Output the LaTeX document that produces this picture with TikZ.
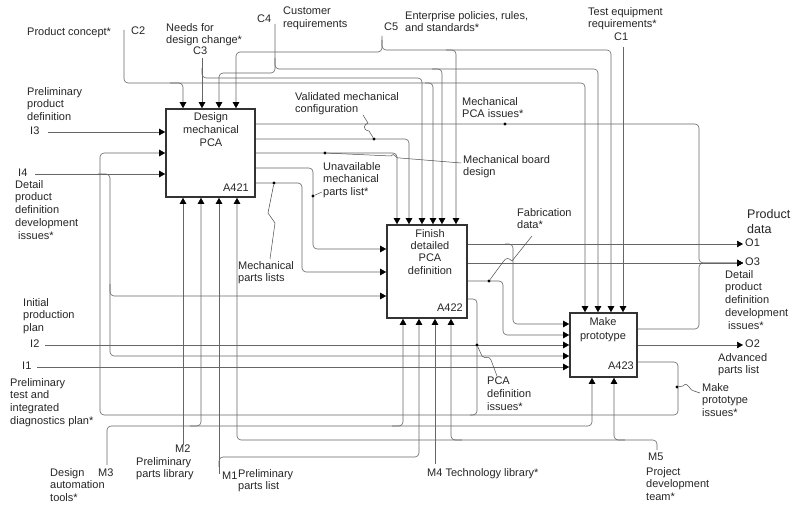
\documentclass[tikz,border=0pt]{standalone}
\usepackage{fontspec}
\setmainfont{Liberation Sans}
\usetikzlibrary{arrows.meta}
\begin{document}
\begin{tikzpicture}[x=1pt,y=-1pt,
  line/.style={draw=black!60, line width=0.6pt, rounded corners=4pt},
  arr/.style={line, -{Triangle[length=6pt,width=6.5pt,color=black]}},
  box/.style={draw=black!80, line width=1.6pt, fill=white, inner sep=0pt},
  btxt/.style={font=\fontsize{11}{13.2}\selectfont, align=center, anchor=north, inner sep=0pt, text=black!85},
  bid/.style={font=\fontsize{11}{13}\selectfont, anchor=base east, inner sep=0pt, text=black!85},
  lbl/.style={font=\fontsize{11}{12.8}\selectfont, align=left, anchor=north west, inner sep=0pt, text=black!85},
  jdot/.style={circle, fill=black, inner sep=0pt, minimum size=3.2pt},
  lead/.style={draw=black!70, line width=0.5pt},
]
\fill[white] (0,0) rectangle (809,510);
\useasboundingbox (0,0) rectangle (809,510);

% ---------- boxes ----------
\node[box, minimum width=89pt, minimum height=88pt] (a421) at (210.5,153) {};
\node[box, minimum width=80pt, minimum height=93pt] (a422) at (427,271.5) {};
\node[box, minimum width=67pt, minimum height=64pt] (a423) at (603.5,345) {};

% ---------- free ends ----------
\coordinate (c2s) at (124,30);
\coordinate (c3s) at (202,58);
\coordinate (c4s) at (275,24);
\coordinate (c5s) at (382,36);
\coordinate (c1s) at (623,47);
\coordinate (i3s) at (48,132);
\coordinate (i4s) at (35,174);
\coordinate (i2s) at (45,345);
\coordinate (i1s) at (37,367);
\coordinate (m2s) at (183,445);
\coordinate (m3s) at (107,465);
\coordinate (m1s) at (219,474);
\coordinate (m4s) at (435,464);
\coordinate (m5s) at (657,450);
\coordinate (o1) at (743,244);
\coordinate (o3) at (743,263);
\coordinate (o2) at (743,345);
\coordinate (fbj) at (470,415);

% ---------- controls ----------
\draw[arr] (c2s) -- (124,83) -- (433,83) -- (433,0 |- a422.north);
\draw[arr] (170,83) -- (183,83) -- (183,0 |- a421.north);
\draw[arr] (425,83) -- (585,83) -- (585,0 |- a423.north);

\draw[arr] (c3s) -- (202,0 |- a421.north);
\draw[arr] (202,68) -- (202,78) -- (422,78) -- (422,0 |- a422.north);

\draw[arr] (c4s) -- (275,73) -- (219,73) -- (219,0 |- a421.north);
\draw[arr] (275,58) -- (275,69) -- (598,69) -- (598,0 |- a423.north);
\draw[arr] (432,69) -- (442,69) -- (442,0 |- a422.north);

\draw[arr] (c5s) -- (382,52) -- (236,52) -- (236,0 |- a421.north);
\draw[arr] (382,40) -- (382,50) -- (611,50) -- (611,0 |- a423.north);
\draw[arr] (446,50) -- (456,50) -- (456,0 |- a422.north);

\draw[arr] (c1s) -- (623,0 |- a423.north);

% ---------- inputs ----------
\draw[arr] (i3s) -- (a421.west |- 0,132);
\draw[arr] (i4s) -- (a421.west |- 0,174);
\draw[arr] (98,174) -- (110,174) -- (110,356) -- (a423.west |- 0,356);
\draw[arr] (110,284) -- (110,296) -- (a422.west |- 0,296);
\draw[arr] (i2s) -- (a423.west |- 0,345);
\draw[arr] (i1s) -- (a423.west |- 0,367);

% ---------- outputs of A421 ----------
\draw[arr] (a421.east |- 0,124) -- (699,124) -- (699,263) -- (o3);
\draw[arr] (a421.east |- 0,139) -- (409,139) -- (409,0 |- a422.north);
\draw[arr] (a421.east |- 0,153) -- (397,153) -- (397,0 |- a422.north);
\draw[arr] (a421.east |- 0,168) -- (313,168) -- (313,249) -- (a422.west |- 0,249);
\draw[arr] (a421.east |- 0,183) -- (302,183) -- (302,272) -- (a422.west |- 0,272);

% ---------- outputs of A422 ----------
\draw[arr] (a422.east |- 0,244) -- (o1);
\draw[arr] (505,244) -- (513,244) -- (513,324) -- (a423.west |- 0,324);
\draw[arr] (a422.east |- 0,263) -- (o3);
\draw[arr] (a422.east |- 0,281) -- (503,281) -- (503,335) -- (a423.west |- 0,335);
\draw[arr] (a422.east |- 0,299) -- (477,299) -- (477,415) -- (100,415) -- (100,153) -- (a421.west |- 0,153);

% ---------- outputs of A423 ----------
\draw[arr] (a423.east |- 0,329) -- (699,329) -- (699,263) -- (o3);
\draw[arr] (a423.east |- 0,345) -- (o2);
\draw[line] (a423.east |- 0,362) -- (678,362) -- (678,415) -- (fbj);

% ---------- mechanisms ----------
\draw[arr] (m2s) -- (183,0 |- a421.south);
\draw[arr] (m3s) -- (107,426) -- (592,426) -- (592,0 |- a423.south);
\draw[arr] (190,426) -- (201,426) -- (201,0 |- a421.south);
\draw[arr] (392,426) -- (403,426) -- (403,0 |- a422.south);
\draw[arr] (m1s) -- (219,0 |- a421.south);
\draw[arr] (219,467) -- (219,457) -- (419,457) -- (419,0 |- a422.south);
\draw[arr] (m4s) -- (435,0 |- a422.south);
\draw[arr] (m5s) -- (657,440) -- (237,440) -- (237,0 |- a421.south);
\draw[arr] (462,440) -- (451,440) -- (451,0 |- a422.south);
\draw[arr] (625,440) -- (614,440) -- (614,0 |- a423.south);

% ---------- junction dots and leaders ----------
\node[jdot] (d1) at (505,124) {};
\node[jdot] (d2) at (374,139) {};
\node[jdot] (d3) at (325,153) {};
\node[jdot] (d4) at (313,196) {};
\node[jdot] (d5) at (274,183) {};
\node[jdot] (d6) at (489,281) {};
\node[jdot] (d7) at (477,345) {};
\node[jdot] (d8) at (677,387) {};

\draw[lead] (d2) -- (369,131) .. controls (362,130) and (364,124) .. (368,123) -- (363,115);
\draw[lead] (d3) -- (391,156) .. controls (394,151) and (396,160) .. (400,158) -- (461,163);
\draw[lead] (d4) -- (322,192);
\draw[lead] (d5) -- (268,213) -- (275,223) -- (270,259);
\draw[lead] (d6) -- (503,262) .. controls (506,257) and (509,258) .. (512,261) -- (532,236);
\draw[lead] (d7) -- (482,356) .. controls (486,360) and (489,355) .. (491,360) -- (497,376);
\draw[lead] (d8) -- (683,386) .. controls (688,380) and (690,392) .. (694,391) -- (700,393);

% ---------- box texts ----------
\node[btxt] (t421) at (211,112) {Design\\mechanical\\PCA};
\node[btxt, font=\fontsize{11}{12.4}\selectfont] (t422) at (430,229) {Finish\\detailed\\PCA\\definition};
\node[btxt, font=\fontsize{11}{14}\selectfont] (t423) at (603,317) {Make\\prototype};
\node[bid] (n421) at (249,192) {A421};
\node[bid] (n422) at (463,312) {A422};
\node[bid] (n423) at (634,370) {A423};

% ---------- labels ----------
\node[lbl] (l-pc) at (27,27) {Product concept*};
\node[lbl] (l-c2) at (131,27) {C2};
\node[lbl] (l-nd) at (166,23) {Needs for\\design change*};
\node[lbl] (l-c3) at (193,47) {C3};
\node[lbl] (l-c4) at (257,15) {C4};
\node[lbl] (l-cr) at (283,7) {Customer\\requirements};
\node[lbl] (l-c5) at (384,23) {C5};
\node[lbl] (l-ep) at (405,11) {Enterprise policies, rules,\\and standards*};
\node[lbl] (l-te) at (588,7) {Test equipment\\requirements*};
\node[lbl] (l-c1) at (614,33) {C1};
\node[lbl] (l-ppd) at (27,87) {Preliminary\\product\\definition};
\node[lbl] (l-i3) at (30,127) {I3};
\node[lbl] (l-i4) at (18,169) {I4};
\node[lbl] (l-dpd) at (15,180) {Detail\\product\\definition\\development\\\hspace*{3pt}issues*};
\node[lbl] (l-ipp) at (23,298) {Initial\\production\\plan};
\node[lbl] (l-i2) at (30,340) {I2};
\node[lbl] (l-i1) at (22,362) {I1};
\node[lbl] (l-pt) at (10,378) {Preliminary\\test and\\integrated\\diagnostics plan*};
\node[lbl] (l-dat) at (50,468) {Design\\automation\\tools*};
\node[lbl] (l-m3) at (98,469) {M3};
\node[lbl] (l-m2) at (175,445) {M2};
\node[lbl] (l-ppl) at (136,457) {Preliminary\\parts library};
\node[lbl] (l-m1) at (222,472) {M1};
\node[lbl] (l-pl) at (238,469) {Preliminary\\parts list};
\node[lbl] (l-m4) at (427,468) {M4 Technology library*};
\node[lbl] (l-m5) at (648,453) {M5};
\node[lbl] (l-pdt) at (646,467) {Project\\development\\team*};
\node[lbl, font=\fontsize{12.5}{15}\selectfont] (l-pd) at (747,209) {Product\\data};
\node[lbl] (l-o1) at (745,239) {O1};
\node[lbl] (l-o3) at (745,258) {O3};
\node[lbl] (l-dpd2) at (725,270) {Detail\\product\\definition\\development\\\hspace*{3pt}issues*};
\node[lbl] (l-o2) at (745,340) {O2};
\node[lbl] (l-apl) at (718,353) {Advanced\\parts list};
\node[lbl] (l-mpi) at (702,383) {Make\\prototype\\issues*};
\node[lbl] (l-pcai) at (487,377) {PCA\\definition\\issues*};
\node[lbl] (l-fd) at (517,208) {Fabrication\\data*};
\node[lbl] (l-mpca) at (462,97) {Mechanical\\PCA issues*};
\node[lbl] (l-mbd) at (463,155) {Mechanical board\\design};
\node[lbl] (l-vmc) at (295,92) {Validated mechanical\\configuration};
\node[lbl] (l-ump) at (323,162) {Unavailable\\mechanical\\parts list*};
\node[lbl] (l-mpl) at (238,261) {Mechanical\\parts lists};
\end{tikzpicture}
\end{document}
